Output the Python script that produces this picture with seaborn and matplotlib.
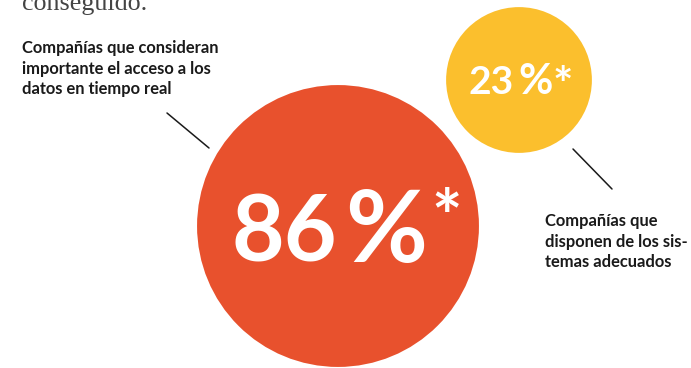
import matplotlib
matplotlib.use("Agg")
import matplotlib.pyplot as plt
import seaborn as sns
import pandas as pd

# ---- data ----
categories = ["Compañías que consideran importante el acceso a los datos en tiempo real",
              "Compañías que disponen de los sistemas adecuados"]
values = [86, 23]
value_labels = ["86", "23"]
colors = ["#E8512D", "#FBBF2D"]
left_label_lines = ["Compañías que consideran", "importante el acceso a los", "datos en tiempo real"]
right_label_lines = ["Compañías que", "disponen de los sis-", "temas adecuados"]

# ---- layout (pixel coordinates) ----
W, H = 691, 368
cx = [338, 519]
cy = [226, 80]
k = 479.0  # marker area (pt^2) per percentage point

sns.set_theme(style="white")
plt.rcParams["font.family"] = ["Lato", "DejaVu Sans"]

fig = plt.figure(figsize=(W / 100, H / 100), dpi=100)
ax = fig.add_axes([0, 0, 1, 1])

df = pd.DataFrame({"x": cx, "y": cy, "value": values, "cat": categories})
sns.scatterplot(data=df, x="x", y="y", size="value",
                sizes=(k * min(values), k * max(values)),
                hue="cat", palette=colors, linewidth=0, legend=False, ax=ax)

ax.set_xlim(0, W)
ax.set_ylim(H, 0)
ax.set_axis_off()

px = 0.72  # points per pixel at dpi 100

# headline fragment (cut at the top)
ax.text(22, 10, "conseguido.", fontsize=26 * px, family=["Liberation Serif"],
        color="#444444", ha="left", va="baseline")

# left label
for i, line in enumerate(left_label_lines):
    ax.text(22, 53 + 20.6 * i, line, fontsize=16.5 * px, fontweight="bold",
            color="#1a1a1a", ha="left", va="baseline")
# right label
for i, line in enumerate(right_label_lines):
    ax.text(545, 226 + 20.6 * i, line, fontsize=16.5 * px, fontweight="bold",
            color="#1a1a1a", ha="left", va="baseline")

# leader lines
ax.plot([167, 209], [113, 148], color="#1a1a1a", lw=1.1)
ax.plot([573, 612], [149, 189], color="#1a1a1a", lw=1.1)

# big number 86 %*
ax.text(232, 262, value_labels[0], fontsize=91 * px, fontweight="bold", color="white",
        ha="left", va="baseline")
ax.text(345, 262, "%", fontsize=100 * px, fontweight="bold", color="white",
        ha="left", va="baseline")
ax.text(431, 243, "*", fontsize=72 * px, fontweight="bold", color="white",
        ha="left", va="baseline")

# small number 23 %*
ax.text(469, 94, value_labels[1], fontsize=39 * px, fontweight="bold", color="white",
        ha="left", va="baseline")
ax.text(518, 94, "%", fontsize=42 * px, fontweight="bold", color="white",
        ha="left", va="baseline")
ax.text(553, 101, "*", fontsize=48 * px, fontweight="bold", color="white",
        ha="left", va="baseline")

fig.savefig("out.png", dpi=100)
